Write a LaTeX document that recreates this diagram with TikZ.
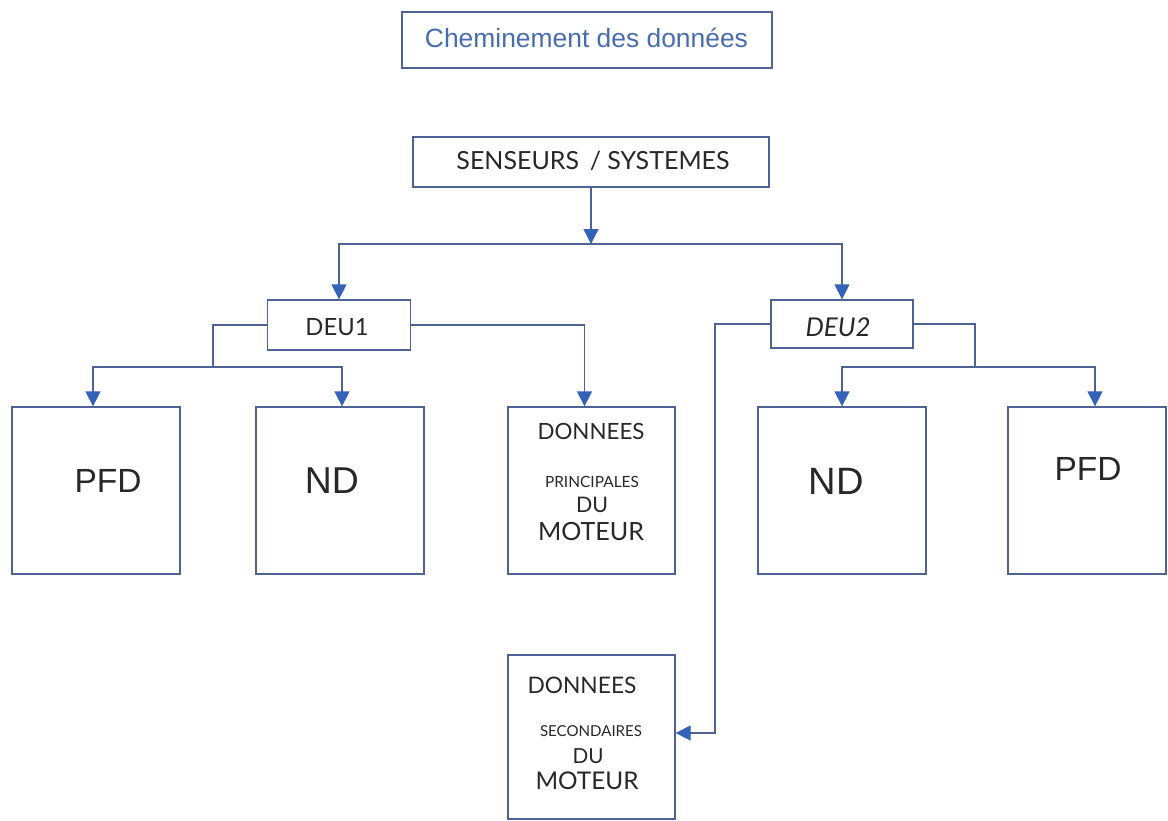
\documentclass[tikz,border=0pt]{standalone}
\usepackage{fontspec}
\setmainfont{Liberation Sans}
\newfontfamily\gill{Lato}
\usetikzlibrary{arrows.meta,calc}
\definecolor{linec}{RGB}{78,98,150}
\definecolor{arrc}{RGB}{52,98,184}
\definecolor{titlec}{RGB}{72,108,176}
\definecolor{txt}{RGB}{40,40,40}
\newcommand\fitw[2]{\resizebox{#1}{!}{#2}}
\begin{document}
\begin{tikzpicture}[x=1pt,y=-1pt,
  box/.style={draw=linec,line width=1.3pt,rectangle,inner sep=0pt},
  lbl/.style={inner sep=0pt,text=txt,anchor=center},
  conn/.style={draw=linec,line width=1.3pt},
  arr/.style={conn,-{Triangle[width=15pt,length=15pt,fill=arrc,color=arrc]}}]
\useasboundingbox[fill=white] (0,0) rectangle (1168,820);

% boxes
\node[box,minimum width=370pt,minimum height=56pt] (title) at (587,40) {};
\node[box,minimum width=356pt,minimum height=50pt] (sens) at (591,162) {};
\node[box,minimum width=143pt,minimum height=50pt] (deu1) at (339,325) {};
\node[box,minimum width=142pt,minimum height=48pt] (deu2) at (842,324) {};
\node[box,minimum width=168pt,minimum height=167pt] (pfd1) at (96,490.5) {};
\node[box,minimum width=168pt,minimum height=167pt] (nd1) at (340,490.5) {};
\node[box,minimum width=167pt,minimum height=167pt] (don1) at (591.5,490.5) {};
\node[box,minimum width=168pt,minimum height=167pt] (nd2) at (842,490.5) {};
\node[box,minimum width=158pt,minimum height=167pt] (pfd2) at (1087,490.5) {};
\node[box,minimum width=167pt,minimum height=164pt] (don2) at (591.5,737) {};

% texts
\node[lbl,text=titlec] (t0) at (586.5,38) {\fitw{323pt}{Cheminement des données}};
\node[lbl] (t1) at (593,161) {\fitw{273pt}{\gill SENSEURS \,/ SYSTEMES}};
\node[lbl] (t2) at (337,327) {\fitw{63pt}{\gill DEU1}};
\node[lbl] (t3) at (838,327) {\fitw{65pt}{\gill\itshape DEU2}};
\node[lbl] (t4) at (108,481) {\fitw{67pt}{PFD}};
\node[lbl] (t5) at (332,481) {\fitw{54pt}{ND}};
\node[lbl] (t6) at (836,481) {\fitw{55pt}{ND}};
\node[lbl] (t7) at (1088,469) {\fitw{67pt}{PFD}};
\node[lbl] (d1a) at (591,431) {\fitw{107pt}{\gill DONNEES}};
\node[lbl] (d1b) at (592,482) {\fitw{94pt}{\gill PRINCIPALES}};
\node[lbl] (d1c) at (592,505) {\fitw{32pt}{\gill DU}};
\node[lbl] (d1d) at (591,532) {\fitw{106pt}{\gill MOTEUR}};
\node[lbl] (d2a) at (582,685) {\fitw{109pt}{\gill DONNEES}};
\node[lbl] (d2b) at (591,731) {\fitw{102pt}{\gill SECONDAIRES}};
\node[lbl] (d2c) at (588,756) {\fitw{31pt}{\gill DU}};
\node[lbl] (d2d) at (587,781) {\fitw{103pt}{\gill MOTEUR}};

% connectors
\coordinate (j0) at (591,244);
\coordinate (j1) at (213,367);
\coordinate (j2) at (975,367);
\coordinate (k) at (715,733);
\draw[arr] (sens.south) -- (j0);
\draw[arr] (j0) -| (deu1.north);
\draw[arr] (j0) -| (deu2.north);
\draw[conn] (deu1.west) -| (j1);
\draw[arr] (j1) -| ($(pfd1.north)+(-3,0)$);
\draw[arr] (j1) -| ($(nd1.north)+(2,0)$);
\draw[arr] (deu1.east) -| ($(don1.north)+(-7,0)$);
\draw[conn] (deu2.east) -| (j2);
\draw[arr] (j2) -| (nd2.north);
\draw[arr] (j2) -| ($(pfd2.north)+(8,0)$);
\draw[arr] (deu2.west) -| (k) -- (k -| don2.east);
\end{tikzpicture}
\end{document}
